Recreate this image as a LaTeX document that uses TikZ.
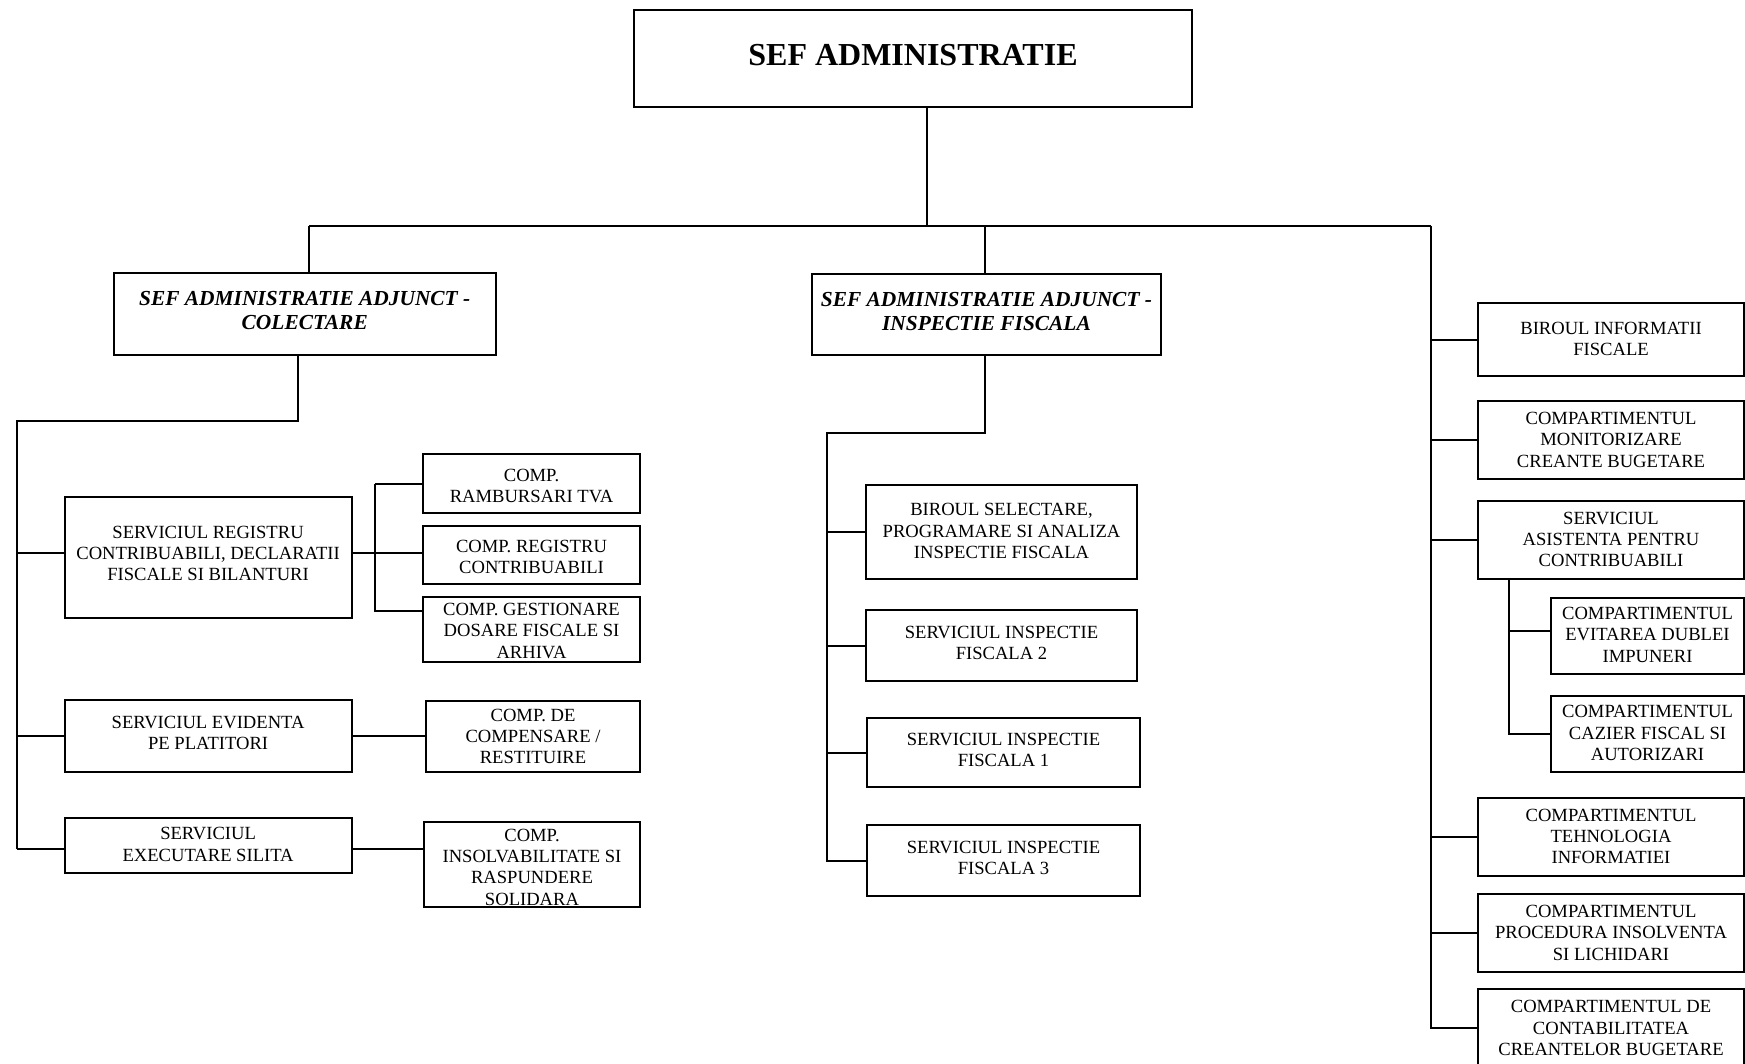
\documentclass[tikz,border=0pt]{standalone}
\usepackage{fontspec}
\setmainfont{Liberation Serif}
\usetikzlibrary{fit}
\newcommand\bodyf{\fontsize{9.3pt}{10.7pt}\selectfont}
\newcommand\subf{\fontsize{10.7pt}{12.2pt}\selectfont\bfseries\itshape}
\newcommand\topf{\fontsize{16pt}{19pt}\selectfont\bfseries}
% \obox[text shift]{name}{fit corners}{text}
\newcommand\obox[4][0pt]{%
  \node[box, fit={#3}] (#2) {};
  \node[txt, yshift=#1] (#2-t) at (#2.center) {#4};}
\begin{document}
\begin{tikzpicture}[x=0.5pt,y=-0.5pt,
  box/.style={draw, line width=1pt, inner sep=0pt},
  txt/.style={inner sep=0pt, align=center, font=\bodyf},
  conn/.style={line width=1pt}]
\useasboundingbox (0,0) rectangle (1745,1064);
\clip (0,0) rectangle (1745,1064);
\fill[white] (0,0) rectangle (1745,1064);

% heads
\node[box, fit={(634,10) (1192,107)}] (top) {};
\node[txt, font=\topf, yshift=1.8pt] (top-t) at (top.center) {SEF ADMINISTRATIE};
\node[box, fit={(113.5,273) (496,355)}] (col) {};
\node[txt, font=\subf, yshift=1.6pt] (col-t) at (col.center) {SEF ADMINISTRATIE ADJUNCT -\\COLECTARE};
\node[box, fit={(812,274) (1161,355)}] (insp) {};
\node[txt, font=\subf, yshift=1.6pt] (insp-t) at (insp.center) {SEF ADMINISTRATIE ADJUNCT -\\INSPECTIE FISCALA};

% left column
\obox[1.9pt]{sr}{(64.5,497) (351.7,617.6)}{SERVICIUL REGISTRU\\CONTRIBUABILI, DECLARATII\\FISCALE SI BILANTURI}
\obox[1.6pt]{se}{(64.5,700) (351.7,772)}{SERVICIUL EVIDENTA\\PE PLATITORI}
\obox[0.4pt]{sex}{(64.5,818) (351.7,872.5)}{SERVICIUL\\EXECUTARE SILITA}
\obox[-1.1pt]{cr}{(423,454) (640,513)}{COMP.\\RAMBURSARI TVA}
\obox[-1.1pt]{creg}{(423,526) (640,584)}{COMP. REGISTRU\\CONTRIBUABILI}
\obox[-0.8pt]{cgest}{(423,596.5) (640,662)}{COMP. GESTIONARE\\DOSARE FISCALE SI\\ARHIVA}
\obox{cde}{(426,701) (640,772)}{COMP. DE\\COMPENSARE /\\RESTITUIRE}
\obox[-1.3pt]{cins}{(424,822) (640,907)}{COMP.\\INSOLVABILITATE SI\\RASPUNDERE\\SOLIDARA}

% middle column
\obox[0.5pt]{bsel}{(866,485) (1137,579)}{BIROUL SELECTARE,\\PROGRAMARE SI ANALIZA\\INSPECTIE FISCALA}
\obox[1.4pt]{sif2}{(866,610) (1137,681)}{SERVICIUL INSPECTIE\\FISCALA 2}
\obox[1.4pt]{sif1}{(867,718) (1140,787)}{SERVICIUL INSPECTIE\\FISCALA 1}
\obox[1.4pt]{sif3}{(867,825) (1140,896)}{SERVICIUL INSPECTIE\\FISCALA 3}

% right column
\obox[0.3pt]{binf}{(1478,303) (1744,376)}{BIROUL INFORMATII\\FISCALE}
\obox{mon}{(1478,400.6) (1744,478.5)}{COMPARTIMENTUL\\MONITORIZARE\\CREANTE BUGETARE}
\obox[0.3pt]{asist}{(1478,501) (1744,579)}{SERVICIUL\\ASISTENTA PENTRU\\CONTRIBUABILI}
\obox[0.6pt]{evit}{(1551,597.6) (1744,674)}{COMPARTIMENTUL\\EVITAREA DUBLEI\\IMPUNERI}
\obox[0.3pt]{caz}{(1551,695.6) (1744,772)}{COMPARTIMENTUL\\CAZIER FISCAL SI\\AUTORIZARI}
\obox[0.3pt]{teh}{(1478,798) (1744,876)}{COMPARTIMENTUL\\TEHNOLOGIA\\INFORMATIEI}
\obox{proc}{(1478,893.6) (1744,971.5)}{COMPARTIMENTUL\\PROCEDURA INSOLVENTA\\SI LICHIDARI}
\obox{cont}{(1478,989) (1744,1067)}{COMPARTIMENTUL DE\\CONTABILITATEA\\CREANTELOR BUGETARE}

% junction coordinates
\coordinate (j0) at (927,226);
\coordinate (bl) at (309,226);
\coordinate (bm) at (985,226);
\coordinate (br) at (1431,226);
\coordinate (lc) at (298,421);
\coordinate (lv) at (16.7,421);
\coordinate (lvb) at (16.7,849);
\coordinate (srj) at (375,553);
\coordinate (mc) at (985,433);
\coordinate (mv) at (827,433);
\coordinate (rs) at (1509,579);

% top connectors
\draw[conn] (top.south -| j0) -- (j0);
\draw[conn] (bl) -- (br);
\draw[conn] (bl) -- (col.north -| bl);
\draw[conn] (bm) -- (insp.north -| bm);

% left tree
\draw[conn] (col.south -| lc) -- (lc) -- (lv) -- (lvb);
\draw[conn] (lv |- srj) -- (sr.west |- srj);
\draw[conn] (lv |- se.west) -- (se.west);
\draw[conn] (lvb) -- (sex.west |- lvb);
\draw[conn] (sr.east |- srj) -- (srj);
\draw[conn] (srj |- cr.west) -- (srj |- 0,611) -- (cgest.west |- 0,611);
\draw[conn] (srj |- cr.west) -- (cr.west);
\draw[conn] (srj) -- (creg.west |- srj);
\draw[conn] (se.east) -- (cde.west |- se.east);
\draw[conn] (sex.east |- lvb) -- (cins.west |- lvb);

% middle tree
\draw[conn] (insp.south -| mc) -- (mc) -- (mv) |- (sif3.west);
\draw[conn] (mv |- bsel.west) -- (bsel.west);
\draw[conn] (mv |- sif2.west) -- (sif2.west);
\draw[conn] (mv |- sif1.west) -- (sif1.west);

% right tree
\draw[conn] (br) |- (cont.west);
\draw[conn] (br |- binf.west) -- (binf.west);
\draw[conn] (br |- mon.west) -- (mon.west);
\draw[conn] (br |- asist.west) -- (asist.west);
\draw[conn] (br |- teh.west) -- (teh.west);
\draw[conn] (br |- proc.west) -- (proc.west);
\draw[conn] (rs) |- (caz.west);
\draw[conn] (rs |- 0,631) -- (evit.west |- 0,631);
\end{tikzpicture}
\end{document}
